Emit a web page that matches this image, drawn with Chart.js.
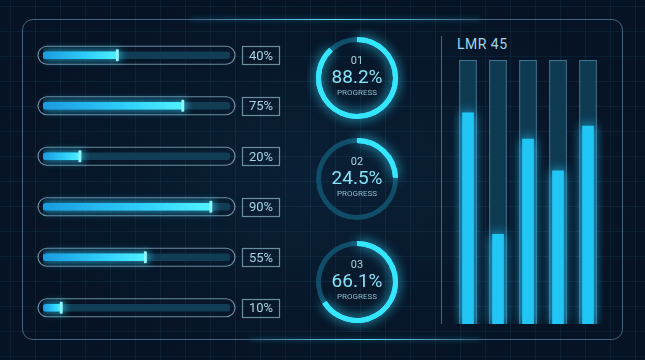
<!DOCTYPE html>
<html>
<head>
<meta charset="utf-8">
<script src="https://cdn.jsdelivr.net/npm/chart.js@4.4.1/dist/chart.umd.min.js"></script>
<style>
  html, body { margin: 0; padding: 0; }
  body {
    width: 645px; height: 360px; overflow: hidden; position: relative;
    font-family: Roboto, "DejaVu Sans", sans-serif;
    background-color: #061426;
    background-image:
      linear-gradient(rgba(70,130,170,0.11) 1px, transparent 1px),
      linear-gradient(90deg, rgba(70,130,170,0.11) 1px, transparent 1px),
      radial-gradient(ellipse at 50% 50%, #0a2036 0%, #061324 75%);
    background-size: 25px 25px, 25px 25px, 100% 100%;
    background-position: 10px 6px, 10px 6px, 0 0;
  }
  .frame { position: absolute; left: 22px; top: 19px; width: 601px; height: 321px;
    border: 1px solid rgba(120,165,195,0.55); border-radius: 11px; box-sizing: border-box; }
  .glow { position: absolute; height: 1px;
    background: linear-gradient(90deg, rgba(60,210,255,0), #5ee0ff 50%, rgba(60,210,255,0));
    box-shadow: 0 0 5px rgba(42,184,240,0.7); }
  .divider { position: absolute; left: 441px; top: 36px; width: 1px; height: 288px;
    background: rgba(120,170,200,0.55); }
  .title { position: absolute; left: 457px; top: 36px; color: #9fd6ea; font-size: 14px; letter-spacing: 0.5px; }
  canvas { position: absolute; }
</style>
</head>
<body>
<div class="frame"></div>
<div class="glow" style="left:190px;top:19px;width:290px;"></div>
<div class="glow" style="left:250px;top:339px;width:230px;"></div>
<div class="divider"></div>
<div class="title" id="colTitle"></div>

<canvas id="hbars" width="300" height="360" style="left:0;top:0"></canvas>
<canvas id="ring0" width="100" height="100" style="left:307px;top:28px"></canvas>
<canvas id="ring1" width="100" height="100" style="left:307px;top:129px"></canvas>
<canvas id="ring2" width="100" height="100" style="left:307px;top:232px"></canvas>
<canvas id="cols" width="170" height="360" style="left:445px;top:0"></canvas>

<script>
// data
const barLabels = ['1', '2', '3', '4', '5', '6'];
const barValues = [40, 75, 20, 90, 55, 10];
const barTrack = [100, 100, 100, 100, 100, 100];

const ringIds = ['01', '02', '03'];
const ringValues = [88.2, 24.5, 66.1];

const columnTitle = 'LMR 45';
const columnLabels = ['1', '2', '3', '4', '5'];
const columnValues = [80, 34, 70, 58, 75];
const columnTrack = [100, 100, 100, 100, 100];

document.getElementById('colTitle').textContent = columnTitle;

const FONT = 'Roboto, "DejaVu Sans", sans-serif';

// glow for datasets flagged with a glow colour
const glowPlugin = {
  id: 'glow',
  beforeDatasetDraw(chart, args) {
    const ds = chart.data.datasets[args.index];
    if (ds.glow) {
      chart.ctx.save();
      chart.ctx.shadowColor = ds.glow;
      chart.ctx.shadowBlur = ds.glowBlur || 10;
    }
  },
  afterDatasetDraw(chart, args) {
    if (chart.data.datasets[args.index].glow) chart.ctx.restore();
  }
};

// capsule outlines, percent boxes and end markers for the horizontal bars
const hbarDecor = {
  id: 'hbarDecor',
  beforeDatasetsDraw(chart) {
    const ctx = chart.ctx;
    const meta = chart.getDatasetMeta(0);
    ctx.save();
    ctx.strokeStyle = 'rgba(150,190,210,0.7)';
    ctx.lineWidth = 1.2;
    meta.data.forEach((bar, i) => {
      const x0 = bar.base - 5, x1 = bar.x + 5, h = 18;
      ctx.beginPath();
      ctx.roundRect(x0, bar.y - h / 2, x1 - x0, h, h / 2);
      ctx.stroke();
      const bx = Math.round(x1 + 7) + 0.5, bw = 37;
      ctx.strokeRect(bx, Math.round(bar.y - 9) + 0.5, bw, 18);
      ctx.fillStyle = '#a9d3e3';
      ctx.font = '13px ' + FONT;
      ctx.textAlign = 'center';
      ctx.textBaseline = 'middle';
      ctx.fillText(barValues[i] + '%', bx + bw / 2, bar.y + 1);
    });
    ctx.restore();
  },
  afterDatasetsDraw(chart) {
    const ctx = chart.ctx;
    const meta = chart.getDatasetMeta(1);
    ctx.save();
    ctx.fillStyle = '#8ff6ff';
    ctx.shadowColor = '#3ee8ff';
    ctx.shadowBlur = 8;
    meta.data.forEach(bar => {
      ctx.beginPath();
      ctx.roundRect(bar.x - 2, bar.y - 6, 3, 12, 1);
      ctx.fill();
    });
    ctx.restore();
  }
};

function fillGradient(context) {
  const chart = context.chart;
  const area = chart.chartArea;
  if (!area || context.dataIndex === undefined) return '#1fa8e8';
  const x = chart.scales.x;
  const x0 = x.getPixelForValue(0);
  const x1 = x.getPixelForValue(barValues[context.dataIndex]);
  const g = chart.ctx.createLinearGradient(x0, 0, Math.max(x1, x0 + 1), 0);
  g.addColorStop(0, '#1a9be0');
  g.addColorStop(0.6, '#2fd0fa');
  g.addColorStop(1, '#52f2ff');
  return g;
}

new Chart(document.getElementById('hbars'), {
  type: 'bar',
  data: {
    labels: barLabels,
    datasets: [
      { data: barTrack, backgroundColor: '#113d55', barThickness: 7, borderRadius: 3.5, borderSkipped: false, grouped: false, order: 2 },
      { data: barValues, backgroundColor: fillGradient, barThickness: 7, borderRadius: 3.5, borderSkipped: false, grouped: false, order: 1,
        glow: 'rgba(50,210,255,0.9)', glowBlur: 10 }
    ]
  },
  options: {
    indexAxis: 'y',
    responsive: false,
    animation: false,
    layout: { padding: { left: 43, right: 70, top: 30, bottom: 27 } },
    scales: {
      x: { min: 0, max: 100, display: false },
      y: { display: false }
    },
    plugins: { legend: { display: false }, tooltip: { enabled: false } }
  },
  plugins: [glowPlugin, hbarDecor]
});

// rings
const ringText = {
  id: 'ringText',
  afterDatasetsDraw(chart) {
    const ctx = chart.ctx;
    const meta = chart.getDatasetMeta(0);
    // re-draw the bright arc with glow
    ctx.save();
    ctx.shadowColor = 'rgba(50,220,255,0.95)';
    ctx.shadowBlur = 12;
    meta.data[0].draw(ctx);
    ctx.restore();

    const a = chart.chartArea;
    const cx = (a.left + a.right) / 2, cy = (a.top + a.bottom) / 2;
    const i = chart.options.plugins.ringText.index;
    ctx.save();
    ctx.textAlign = 'center';
    ctx.textBaseline = 'middle';
    ctx.fillStyle = '#a7d2e2';
    ctx.font = '11px ' + FONT;
    ctx.fillText(ringIds[i], cx, cy - 17);
    ctx.fillStyle = '#86e2f6';
    ctx.font = '19px ' + FONT;
    ctx.fillText(ringValues[i].toFixed(1) + '%', cx, cy);
    ctx.fillStyle = '#8cbccd';
    ctx.font = '8px ' + FONT;
    ctx.fillText('PROGRESS', cx, cy + 15);
    ctx.restore();
  }
};

ringValues.forEach((v, i) => {
  new Chart(document.getElementById('ring' + i), {
    type: 'doughnut',
    data: {
      labels: ['done', 'left'],
      datasets: [{ data: [v, 100 - v], backgroundColor: ['#35e6ff', '#104d69'], borderWidth: 0 }]
    },
    options: {
      responsive: false,
      animation: false,
      cutout: 36,
      layout: { padding: 9 },
      plugins: { legend: { display: false }, tooltip: { enabled: false }, ringText: { index: i } }
    },
    plugins: [ringText]
  });
});

// vertical columns
new Chart(document.getElementById('cols'), {
  type: 'bar',
  data: {
    labels: columnLabels,
    datasets: [
      { data: columnTrack, backgroundColor: '#0e3a52', borderColor: 'rgba(110,175,205,0.75)', borderWidth: 1,
        barThickness: 17, grouped: false, order: 2 },
      { data: columnValues, backgroundColor: '#22c6f4', barThickness: 11, grouped: false, order: 1,
        glow: 'rgba(40,200,255,0.95)', glowBlur: 12 }
    ]
  },
  options: {
    responsive: false,
    animation: false,
    layout: { padding: { left: 8, right: 12, top: 60, bottom: 36 } },
    scales: {
      x: { display: false },
      y: { min: 0, max: 100, display: false }
    },
    plugins: { legend: { display: false }, tooltip: { enabled: false } }
  },
  plugins: [glowPlugin]
});
</script>
</body>
</html>
